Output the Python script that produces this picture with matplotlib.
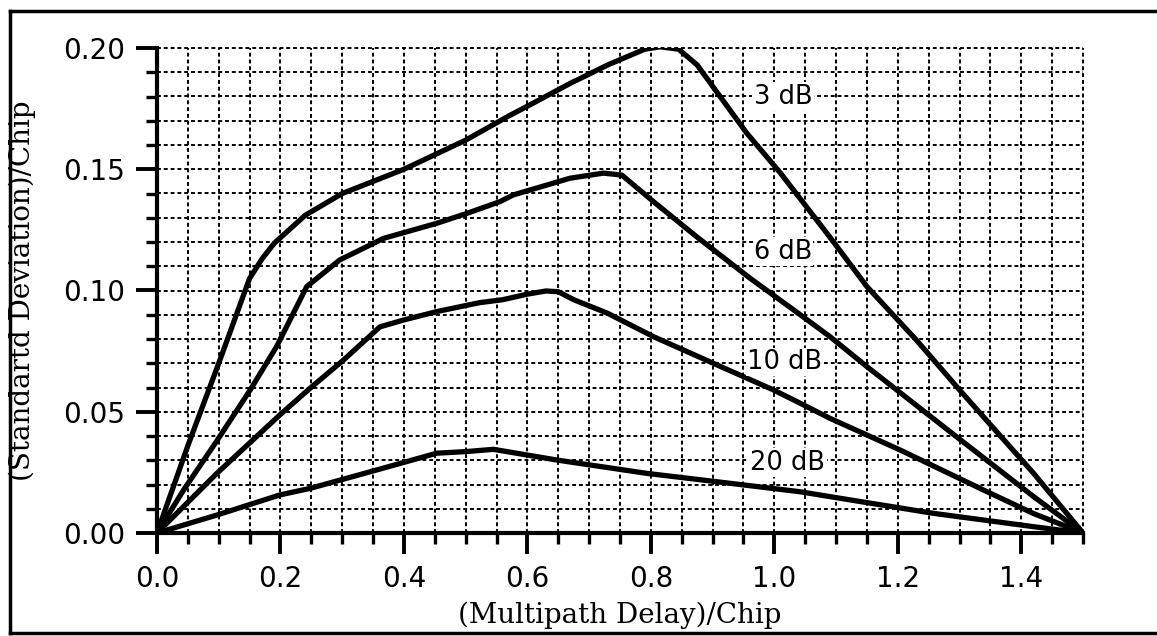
import numpy as np
import matplotlib
matplotlib.use("Agg")
import matplotlib.pyplot as plt
from matplotlib.lines import Line2D
from matplotlib.ticker import MultipleLocator, FormatStrFormatter

# ---- data ----
x_3db = [0, 0.05, 0.10, 0.15, 0.17, 0.19, 0.24, 0.30, 0.40, 0.50, 0.57, 0.60, 0.67,
         0.73, 0.79, 0.815, 0.845, 0.875, 0.955, 1.01, 1.09, 1.15, 1.23, 1.30, 1.42, 1.5]
y_3db = [0, 0.036, 0.070, 0.105, 0.113, 0.1195, 0.131, 0.140, 0.150, 0.162, 0.172, 0.176,
         0.1855, 0.193, 0.1995, 0.2005, 0.1995, 0.193, 0.165, 0.1484, 0.122, 0.1016,
         0.0796, 0.059, 0.0246, 0]

x_6db = [0, 0.043, 0.097, 0.151, 0.194, 0.2425, 0.296, 0.367, 0.453, 0.502, 0.556,
         0.577, 0.669, 0.723, 0.753, 0.804, 0.874, 0.961, 1.042, 1.09, 1.15, 1.295, 1.42, 1.5]
y_6db = [0, 0.0177, 0.038, 0.059, 0.077, 0.1016, 0.1126, 0.1215, 0.1277, 0.1318, 0.1367,
         0.1394, 0.1463, 0.1484, 0.1476, 0.1367, 0.1222, 0.105, 0.090, 0.081, 0.0686,
         0.0397, 0.015, 0]

x_10db = [0, 0.097, 0.199, 0.248, 0.302, 0.361, 0.399, 0.453, 0.523, 0.56, 0.60, 0.63,
          0.65, 0.675, 0.73, 0.804, 0.901, 0.9985, 1.042, 1.09, 1.204, 1.339, 1.42, 1.5]
y_10db = [0, 0.0246, 0.0487, 0.0597, 0.0713, 0.085, 0.0878, 0.0913, 0.095, 0.0962,
          0.0985, 0.0998, 0.0995, 0.0962, 0.0906, 0.081, 0.070, 0.059, 0.0535, 0.0473,
          0.0342, 0.0177, 0.008, 0]

x_20db = [0, 0.097, 0.199, 0.248, 0.356, 0.453, 0.502, 0.545, 0.6475, 0.793, 0.928,
          1.042, 1.09, 1.258, 1.42, 1.5]
y_20db = [0, 0.0074, 0.0157, 0.0184, 0.026, 0.0329, 0.0336, 0.0345, 0.0301, 0.0246,
          0.0205, 0.017, 0.015, 0.0081, 0.0026, 0]

curve_labels = ["3 dB", "6 dB", "10 dB", "20 dB"]
label_x = [1.014, 1.014, 1.017, 1.022]
label_y = [0.180, 0.116, 0.0705, 0.029]

x_label = "(Multipath Delay)/Chip"
y_label = "(Standartd Deviation)/Chip"

# ---- figure ----
fig = plt.figure(figsize=(11.57, 6.36), dpi=100)
ax = fig.add_axes([157 / 1157, 1 - 533 / 636, (1083 - 157) / 1157, (533 - 48) / 636])

ax.set_xlim(0, 1.5)
ax.set_ylim(0, 0.20)

# grid (dotted), drawn at every minor step, including the top / right limits
grid_kw = dict(color="black", linewidth=1.4, linestyle=(0, (2, 1.5)), zorder=1, clip_on=False)
for v in np.arange(0.05, 1.5001, 0.05):
    ax.axvline(v, **grid_kw)
for v in np.arange(0.01, 0.2001, 0.01):
    ax.axhline(v, **grid_kw)

for xs, ys in [(x_3db, y_3db), (x_6db, y_6db), (x_10db, y_10db), (x_20db, y_20db)]:
    ax.plot(xs, ys, color="black", linewidth=3.8, solid_joinstyle="round",
            solid_capstyle="round", zorder=3)

for t, lx, ly in zip(curve_labels, label_x, label_y):
    ax.text(lx, ly, t, ha="center", va="center", fontsize=18.5, family="DejaVu Sans",
            zorder=4, bbox=dict(facecolor="white", edgecolor="none", pad=1.0))

# spines
for s in ["top", "right"]:
    ax.spines[s].set_visible(False)
for s in ["left", "bottom"]:
    ax.spines[s].set_linewidth(3.0)
    ax.spines[s].set_zorder(5)

ax.xaxis.set_major_locator(MultipleLocator(0.2))
ax.xaxis.set_minor_locator(MultipleLocator(0.05))
ax.yaxis.set_major_locator(MultipleLocator(0.05))
ax.yaxis.set_minor_locator(MultipleLocator(0.01))
ax.xaxis.set_major_formatter(FormatStrFormatter("%.1f"))
ax.yaxis.set_major_formatter(FormatStrFormatter("%.2f"))
ax.set_xticks([0.0, 0.2, 0.4, 0.6, 0.8, 1.0, 1.2, 1.4])

ax.tick_params(which="major", direction="out", length=15, width=2.8, labelsize=20, pad=8)
ax.tick_params(which="minor", direction="out", length=8, width=2.4)
for lab in ax.get_xticklabels() + ax.get_yticklabels():
    lab.set_family("DejaVu Sans")

ax.set_xlabel(x_label, family="DejaVu Serif", fontsize=20)
ax.set_ylabel(y_label, family="DejaVu Serif", fontsize=20)
ax.xaxis.set_label_coords(0.5, (533 - 602) / 485)
ax.yaxis.set_label_coords((36 - 157) / 926, 0.5)

# outer frame lines (left, top, bottom)
fl, ft, fb = 10 / 1157, 1 - 11 / 636, 1 - 633 / 636
fig.add_artist(Line2D([fl, fl], [fb, ft], transform=fig.transFigure, color="black", linewidth=2.5))
fig.add_artist(Line2D([fl, 1.0], [ft, ft], transform=fig.transFigure, color="black", linewidth=2.5))
fig.add_artist(Line2D([fl, 1.0], [fb, fb], transform=fig.transFigure, color="black", linewidth=2.5))

fig.savefig("out.png", dpi=100, facecolor="white")
